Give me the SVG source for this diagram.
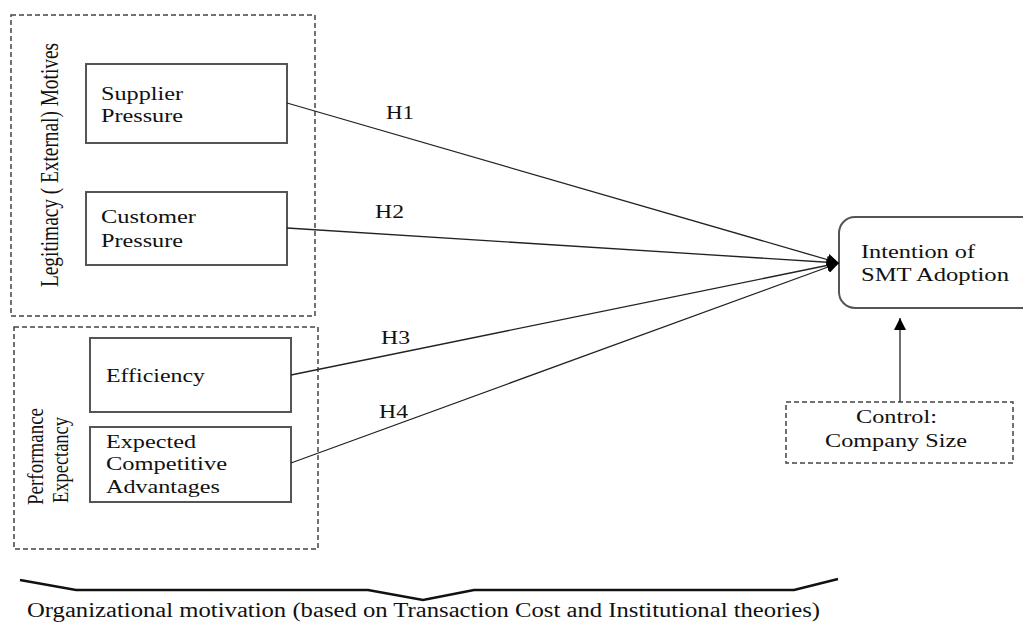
<svg xmlns="http://www.w3.org/2000/svg" width="1023" height="623" viewBox="0 0 1023 623">
<style>
.box{fill:#fff;stroke:#555;stroke-width:2}
.dash{fill:none;stroke:#444;stroke-width:1.5;stroke-dasharray:5 3}
.t{font-family:"Liberation Serif","Times New Roman",serif;font-size:19px;fill:#111}
.c{stroke:#222;stroke-width:1.3;fill:none}
</style>
<defs>
<marker id="ah" viewBox="0 0 10 10" refX="10" refY="5" markerWidth="12" markerHeight="12" markerUnits="userSpaceOnUse" orient="auto">
<path d="M0,0 L10,5 L0,10 z" fill="#000"/>
</marker>
</defs>
<rect width="1023" height="623" fill="#fff"/>
<g id="group-legitimacy">
<rect class="dash" x="11" y="15" width="304" height="301"/>
<text class="t" transform="translate(58,287) rotate(-90)" style="font-size:25px" textLength="244" lengthAdjust="spacingAndGlyphs">Legitimacy ( External) Motives</text>
</g>
<g id="group-performance">
<rect class="dash" x="14" y="327" width="304" height="222"/>
<text class="t" transform="translate(43,505) rotate(-90)" style="font-size:23px" textLength="97" lengthAdjust="spacingAndGlyphs">Performance</text>
<text class="t" transform="translate(68,503) rotate(-90)" style="font-size:23px" textLength="86" lengthAdjust="spacingAndGlyphs">Expectancy</text>
</g>
<g id="node-supplier">
<rect class="box" x="86" y="64" width="201" height="79"/>
<text class="t" x="101" y="100" textLength="82" lengthAdjust="spacingAndGlyphs">Supplier</text>
<text class="t" x="101" y="122" textLength="82" lengthAdjust="spacingAndGlyphs">Pressure</text>
</g>
<g id="node-customer">
<rect class="box" x="86" y="192" width="201" height="73"/>
<text class="t" x="101" y="223" textLength="95" lengthAdjust="spacingAndGlyphs">Customer</text>
<text class="t" x="101" y="247" textLength="82" lengthAdjust="spacingAndGlyphs">Pressure</text>
</g>
<g id="node-efficiency">
<rect class="box" x="90" y="338" width="201" height="74"/>
<text class="t" x="106" y="382" textLength="99" lengthAdjust="spacingAndGlyphs">Efficiency</text>
</g>
<g id="node-advantages">
<rect class="box" x="90" y="427" width="201" height="75"/>
<text class="t" x="106" y="448" textLength="90" lengthAdjust="spacingAndGlyphs">Expected</text>
<text class="t" x="106" y="470" textLength="121" lengthAdjust="spacingAndGlyphs">Competitive</text>
<text class="t" x="106" y="493" textLength="114" lengthAdjust="spacingAndGlyphs">Advantages</text>
</g>
<g id="node-intention">
<rect class="box" x="839" y="217" width="200" height="91" rx="16"/>
<text class="t" x="861" y="258" textLength="114" lengthAdjust="spacingAndGlyphs">Intention of</text>
<text class="t" x="861" y="281" textLength="148" lengthAdjust="spacingAndGlyphs">SMT Adoption</text>
</g>
<g id="node-control">
<rect class="dash" x="786" y="402" width="227" height="61"/>
<text class="t" x="856" y="423" textLength="81" lengthAdjust="spacingAndGlyphs">Control:</text>
<text class="t" x="825" y="447" textLength="142" lengthAdjust="spacingAndGlyphs">Company Size</text>
</g>
<g id="connectors">
<line class="c" x1="287" y1="103" x2="839" y2="263" marker-end="url(#ah)"/>
<line class="c" x1="287" y1="228" x2="839" y2="263" marker-end="url(#ah)"/>
<line class="c" x1="291" y1="375" x2="839" y2="263" marker-end="url(#ah)"/>
<line class="c" x1="291" y1="463" x2="839" y2="263" marker-end="url(#ah)"/>
<line class="c" x1="900" y1="402" x2="900" y2="318" marker-end="url(#ah)"/>
<text class="t" x="386" y="119" textLength="28" lengthAdjust="spacingAndGlyphs">H1</text>
<text class="t" x="375" y="218" textLength="29" lengthAdjust="spacingAndGlyphs">H2</text>
<text class="t" x="381" y="344" textLength="29" lengthAdjust="spacingAndGlyphs">H3</text>
<text class="t" x="379" y="418" textLength="29" lengthAdjust="spacingAndGlyphs">H4</text>
</g>
<g id="brace">
<polyline points="20,580 76,590 368,590 423,600 474,590 794,590 838,579" fill="none" stroke="#111" stroke-width="2.5" stroke-linejoin="miter"/>
<text class="t" x="27" y="617" style="font-size:20px" textLength="793" lengthAdjust="spacingAndGlyphs">Organizational motivation (based on Transaction Cost and Institutional theories)</text>
</g>
</svg>
